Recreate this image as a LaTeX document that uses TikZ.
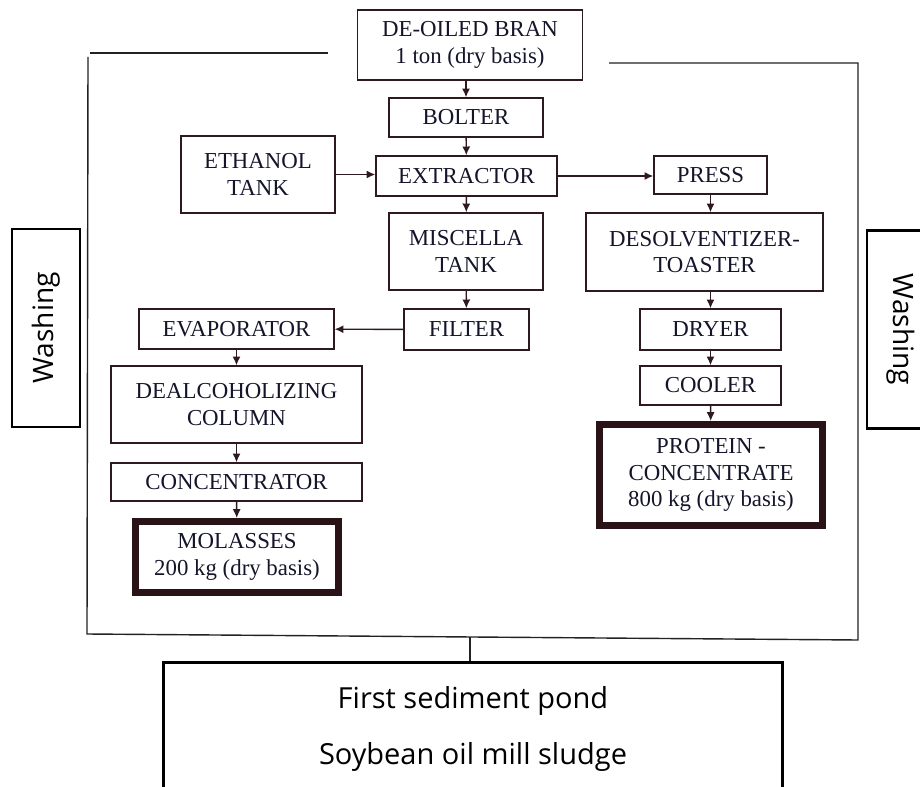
\documentclass[tikz,border=0pt]{standalone}
\usepackage{fontspec}
\setmainfont{Liberation Serif}
\newfontfamily\washfont{Open Sans}
\usepackage{tikz}
\usetikzlibrary{positioning,arrows,arrows.meta,calc}
\definecolor{boxline}{HTML}{2E1A1E}
\definecolor{prodline}{HTML}{2A1317}
\definecolor{frameline}{HTML}{222222}
\definecolor{unittext}{HTML}{14142A}

\begin{document}
\begin{tikzpicture}[>={Latex[length=5pt,width=4.6pt]}, x=0.02cm, y=-0.02cm,
	unit/.style={draw=boxline, line width=0.8pt, align=center, inner sep=2pt,
		text=unittext, font=\fontsize{13}{15}\selectfont},
	product/.style={unit, draw=prodline, line width=4pt},
	washbox/.style={draw=black, line width=1.4pt,
		font=\washfont\fontsize{16}{19}\selectfont,
		minimum width=3.96cm, minimum height=1.36cm},
	pondtext/.style={font=\washfont\fontsize{16.5}{19}\selectfont},
	flow/.style={->, draw=boxline, line width=0.8pt}]
	\clip (0,0) rectangle (920,787);

	\node[unit, minimum width=4.5cm, minimum height=1.4cm]
		  (bran) at (470,45) {DE-OILED BRAN\\1 ton (dry basis)};
	\node[unit, minimum width=3.08cm, minimum height=0.78cm]
		  (bolter) at (466,117.5) {BOLTER};
	\node[unit, minimum width=3.08cm, minimum height=1.54cm]
		  (ethanol) at (258,174.5) {ETHANOL\\TANK};
	\node[unit, minimum width=3.62cm, minimum height=0.8cm]
		  (extractor) at (466.5,176) {EXTRACTOR};
	\node[unit, minimum width=2.26cm, minimum height=0.76cm]
		  (press) at (710.5,175) {PRESS};
	\node[unit, minimum width=3.08cm, minimum height=1.54cm]
		  (miscella) at (466,251.5) {MISCELLA\\TANK};
	\node[unit, minimum width=4.74cm, minimum height=1.56cm]
		  (desolv) at (704.5,252) {DESOLVENTIZER-\\TOASTER};
	\node[unit, minimum width=3.9cm, minimum height=0.8cm]
		  (evaporator) at (236.5,329) {EVAPORATOR};
	\node[unit, minimum width=2.5cm, minimum height=0.82cm]
		  (filter) at (466.5,329.5) {FILTER};
	\node[unit, minimum width=2.82cm, minimum height=0.82cm]
		  (dryer) at (710.5,329.5) {DRYER};
	\node[unit, minimum width=5.02cm, minimum height=1.54cm]
		  (dealc) at (236.5,404.5) {DEALCOHOLIZING\\COLUMN};
	\node[unit, minimum width=2.82cm, minimum height=0.78cm]
		  (cooler) at (710.5,385.5) {COOLER};
	\node[unit, minimum width=5.02cm, minimum height=0.76cm]
		  (concentrator) at (236.5,482) {CONCENTRATOR};
	\node[product, minimum width=4.46cm, minimum height=2.02cm]
		  (protein) at (711,475) {PROTEIN -\\CONCENTRATE\\800 kg (dry basis)};
	\node[product, minimum width=4.06cm, minimum height=1.42cm]
		  (molasses) at (237,557) {MOLASSES\\200 kg (dry basis)};

	\node[washbox, rotate=90] (washL) at (46,328) {Washing};
	\node[washbox, rotate=-90] (washR) at (901,329.5) {Washing};

	% outer frame
	\draw[frameline, line width=0.8pt] (328,53) -- (90,53);
	\draw[frameline, line width=0.8pt] (88,57) -- (87,634) -- (858,640) -- (858,63) -- (609,63);
	\coordinate (tap) at (470,637);

	\node[draw=black, line width=1.7pt, minimum width=12.4cm, minimum height=3.4cm]
		  (pond) at (473,747) {};
	\node[pondtext] (pondA) at (473,701) {First sediment pond};
	\node[pondtext] (pondB) at (473,757) {Soybean oil mill sludge};

	\draw[flow] (bran.south -| bolter) -- (bolter);
	\draw[flow] (bolter) -- (extractor);
	\draw[flow] (ethanol.east) -- (ethanol.east -| extractor.west);
	\draw[flow] (extractor.east) -- (extractor.east -| press.west);
	\draw[flow] (extractor) -- (miscella);
	\draw[flow] (miscella) -- (filter);
	\draw[flow] (filter) -- (evaporator);
	\draw[flow] (evaporator) -- (dealc);
	\draw[flow] (dealc) -- (concentrator);
	\draw[flow] (concentrator) -- (molasses);
	\draw[flow] (press.south) -- (press.south |- desolv.north);
	\draw[flow] (dryer.north |- desolv.south) -- (dryer);
	\draw[flow] (dryer) -- (cooler);
	\draw[flow] (cooler) -- (protein);
	\draw[frameline, line width=0.8pt] (tap) -- (tap |- pond.north);
\end{tikzpicture}
\end{document}
